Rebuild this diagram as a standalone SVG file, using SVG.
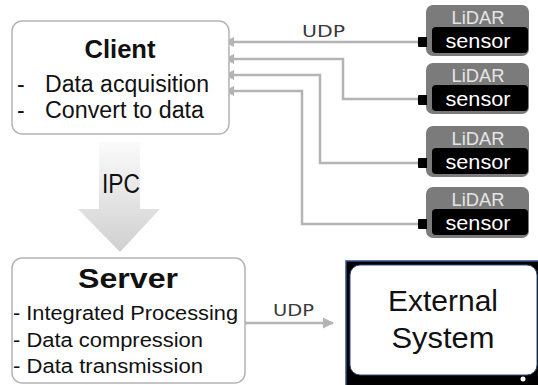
<svg xmlns="http://www.w3.org/2000/svg" width="538" height="385" viewBox="0 0 538 385">
<defs>
<linearGradient id="ipcGrad" x1="0" y1="0" x2="0" y2="1">
<stop offset="0" stop-color="#fbfbfb"/>
<stop offset="1" stop-color="#cfcfcf"/>
</linearGradient>
<marker id="arr" viewBox="0 0 10 10" refX="1" refY="5" markerWidth="4" markerHeight="4" orient="auto-start-reverse" markerUnits="strokeWidth">
<path d="M0,0 L10,5 L0,10 Z" fill="#b4b4b4"/>
</marker>
<marker id="arrR" viewBox="0 0 10 10" refX="9" refY="5" markerWidth="4.5" markerHeight="4.5" orient="auto" markerUnits="strokeWidth">
<path d="M0,0 L10,5 L0,10 Z" fill="#b4b4b4"/>
</marker>
<g id="sensorShape">
<rect x="0" y="0" width="103" height="51" rx="7" fill="#7b7b7b"/>
<text x="52" y="19" class="lidar" textLength="53" lengthAdjust="spacingAndGlyphs">LiDAR</text>
<rect x="6" y="22" width="96" height="26" rx="4" fill="#000"/>
<path d="M-7,32 h8 v10 h-8 q-1,0 -1,-1 v-8 q0,-1 1,-1 z" fill="#000"/>
<text x="52" y="43" class="sensor" textLength="65" lengthAdjust="spacingAndGlyphs">sensor</text>
</g>
</defs>
<style>
.box{fill:#fff;stroke:#b4b4b4;stroke-width:1.5}
.t{font-family:"Liberation Sans","Open Sans",sans-serif;fill:#111}
.b{font-weight:bold}
.conn{fill:none;stroke:#b4b4b4;stroke-width:2.5}
.lidar{font-family:"Liberation Sans","Open Sans",sans-serif;font-size:19px;fill:#e6e6e6;text-anchor:middle}
.sensor{font-family:"Liberation Sans","Open Sans",sans-serif;font-size:20px;fill:#fff;text-anchor:middle}
.udp{font-family:"DejaVu Sans","Liberation Sans",sans-serif;font-size:15px;fill:#3a3a3a}
</style>
<rect width="538" height="385" fill="#fff"/>

<g id="connectors">
<path class="conn" d="M419,42 H233" marker-end="url(#arr)"/>
<path class="conn" d="M419,99 H343 V59 H233" marker-end="url(#arr)"/>
<path class="conn" d="M419,163 H320 V75 H233" marker-end="url(#arr)"/>
<path class="conn" d="M419,224 H302 V91 H233" marker-end="url(#arr)"/>
<circle cx="419" cy="42" r="2" fill="#b4b4b4"/>
<circle cx="419" cy="99" r="2" fill="#b4b4b4"/>
<circle cx="419" cy="163" r="2" fill="#b4b4b4"/>
<circle cx="419" cy="224" r="2" fill="#b4b4b4"/>
<text class="udp" x="302" y="37" textLength="43" lengthAdjust="spacingAndGlyphs">UDP</text>
<path class="conn" d="M245,323 H333" marker-end="url(#arrR)"/>
<circle cx="245" cy="323" r="2" fill="#b4b4b4"/>
<text class="udp" x="273" y="316" textLength="41" lengthAdjust="spacingAndGlyphs">UDP</text>
</g>

<g id="ipc">
<path d="M99,142 H140 V209 H160 L120,252 L78,209 H99 Z" fill="url(#ipcGrad)"/>
<text class="t" x="121" y="193" font-size="27" text-anchor="middle" textLength="38" lengthAdjust="spacingAndGlyphs">IPC</text>
</g>

<g id="client">
<rect class="box" x="12" y="21" width="217" height="113" rx="10"/>
<text class="t b" x="120" y="58" font-size="26" text-anchor="middle" textLength="71" lengthAdjust="spacingAndGlyphs">Client</text>
<text class="t" x="17" y="92" font-size="23">-</text>
<text class="t" x="45" y="92" font-size="23" textLength="164" lengthAdjust="spacingAndGlyphs">Data acquisition</text>
<text class="t" x="17" y="118" font-size="23">-</text>
<text class="t" x="45" y="118" font-size="23" textLength="159" lengthAdjust="spacingAndGlyphs">Convert to data</text>
</g>

<g id="sensor1"><use href="#sensorShape" x="426" y="5"/></g>
<g id="sensor2"><use href="#sensorShape" x="426" y="63"/></g>
<g id="sensor3"><use href="#sensorShape" x="426" y="126"/></g>
<g id="sensor4"><use href="#sensorShape" x="426" y="187"/></g>

<g id="server">
<rect class="box" x="12" y="258" width="233" height="125" rx="10"/>
<text class="t b" x="128" y="288" font-size="27" text-anchor="middle" textLength="100" lengthAdjust="spacingAndGlyphs">Server</text>
<text class="t" x="13" y="320" font-size="20" textLength="225" lengthAdjust="spacingAndGlyphs">- Integrated Processing</text>
<text class="t" x="13" y="347" font-size="20" textLength="190" lengthAdjust="spacingAndGlyphs">- Data compression</text>
<text class="t" x="13" y="373" font-size="20" textLength="190" lengthAdjust="spacingAndGlyphs">- Data transmission</text>
</g>

<g id="external">
<rect x="346" y="261" width="200" height="130" fill="#000" stroke="#2f4f86" stroke-width="1.5"/>
<rect x="350" y="265" width="187" height="110" rx="10" fill="#fff" stroke="#2f4f86" stroke-width="1"/>
<circle cx="523" cy="379" r="2.5" fill="#fff"/>
<text class="t" x="443" y="311" font-size="29" text-anchor="middle" textLength="110" lengthAdjust="spacingAndGlyphs">External</text>
<text class="t" x="443" y="348" font-size="29" text-anchor="middle" textLength="103" lengthAdjust="spacingAndGlyphs">System</text>
</g>
</svg>
